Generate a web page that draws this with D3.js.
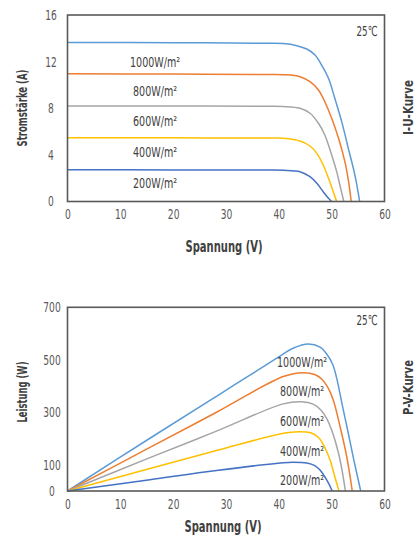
<!DOCTYPE html>
<html>
<head>
<meta charset="utf-8">
<script src="https://cdn.jsdelivr.net/npm/d3@7"></script>
<style>
  html, body { margin: 0; padding: 0; background: #fff; }
  svg { display: block; }
  text { font-family: "DejaVu Sans Condensed", "DejaVu Sans", sans-serif; }
</style>
</head>
<body>
<svg id="chart" width="416" height="536"></svg>
<script>
// ---------- data ----------
const irradianceLabels = ["1000W/m²", "800W/m²", "600W/m²", "400W/m²", "200W/m²"];
const temperatureLabel = "25℃";

// I-U curves: [voltage V, current A]
const iu1000 = [[0,13.65],[20,13.62],[38,13.58],[40.85,13.55],[43.4,13.37],[45.3,13.08],[46.85,12.57],[48.1,11.71],[49.4,10.57],[50.6,8.85],[51.9,6.85],[53.15,4.56],[54.4,2.27],[55.3,0]];
const iu800  = [[0,10.95],[20,10.93],[38,10.9],[40.85,10.88],[44.0,10.71],[45.9,10.28],[47.5,9.57],[48.7,8.56],[50.0,7.14],[51.3,5.42],[52.5,3.42],[53.2,1.7],[53.7,0]];
const iu600  = [[0,8.2],[20,8.19],[38,8.17],[40.85,8.15],[44.0,8.0],[45.9,7.57],[47.5,6.71],[48.7,5.71],[50.0,3.99],[50.95,2.56],[51.7,1.13],[52.3,0]];
const iu400  = [[0,5.47],[20,5.46],[38,5.44],[40.85,5.42],[44.0,5.19],[45.9,4.76],[47.2,4.13],[48.4,3.13],[49.4,1.99],[50.3,0.84],[50.95,0]];
const iu200  = [[0,2.72],[20,2.71],[38,2.7],[40.85,2.68],[44.0,2.56],[45.9,2.13],[47.2,1.56],[48.4,0.84],[49.4,0.27],[50.0,0]];

// P-V curves: [voltage V, power W]
const pv1000 = [[0,0],[15.6,201],[28.2,361],[39.6,506],[42.7,544],[45.6,560],[47.8,548],[49.06,522],[50.2,482],[50.95,430],[51.9,338],[53.15,220],[54.2,118],[55.5,0]];
const pv800  = [[0,0],[15.6,166],[28.2,300],[40.85,436],[44.6,451],[46.8,444],[48.2,425],[49.3,394],[50.3,347],[51.6,245],[52.85,131],[53.9,0]];
const pv600  = [[0,0],[15.6,127],[28.2,228],[40.85,332],[44.3,340],[46.5,331],[48.0,308],[49.1,275],[50.0,232],[51.3,144],[52.0,75],[52.6,0]];
const pv400  = [[0,0],[15.6,86],[28.2,154],[40.85,220],[43.7,226],[46.2,221],[47.6,202],[48.6,170],[49.7,118],[50.6,54],[51.4,0]];
const pv200  = [[0,0],[15.6,43],[28.2,78],[40.85,108],[42.7,110],[45.3,107],[46.8,97],[47.8,80],[49.06,42],[50.1,0]];

const xTicks = [0, 10, 20, 30, 40, 50, 60];
const iuYTicks = [0, 4, 8, 12, 16];
const pvYTicks = [0, 100, 300, 500, 700];

const iuSeries = [iu1000, iu800, iu600, iu400, iu200];
const pvSeries = [pv1000, pv800, pv600, pv400, pv200];

// ---------- styles ----------
const seriesColors = ["#5B9BD5", "#ED7D31", "#A5A5A5", "#FFC000", "#4472C4"];
const axisColor = "#595959";
const textColor = "#404040";
const digitWidth = 5.8;

const svg = d3.select("#chart");
svg.append("rect").attr("width", 416).attr("height", 536).attr("fill", "#fff");

function fitText(sel, width) {
  sel.attr("textLength", width).attr("lengthAdjust", "spacingAndGlyphs");
}

function drawPanel(cfg) {
  const x = d3.scaleLinear().domain([0, 60]).range([cfg.left, cfg.right]);
  const y = d3.scaleLinear().domain([0, cfg.yMax]).range([cfg.bottom, cfg.top]);
  const g = svg.append("g");

  // curves
  const line = d3.line().x(d => x(d[0])).y(d => y(d[1])).curve(d3.curveCatmullRom.alpha(0.5));
  cfg.series.forEach((s, i) => {
    g.append("path").datum(s).attr("d", line)
      .attr("fill", "none").attr("stroke", seriesColors[i])
      .attr("stroke-width", 1.5).attr("stroke-linejoin", "round");
  });

  // frame
  g.append("rect")
    .attr("x", cfg.left).attr("y", cfg.top)
    .attr("width", cfg.right - cfg.left).attr("height", cfg.bottom - cfg.top)
    .attr("fill", "none").attr("stroke", axisColor).attr("stroke-width", 1.6);

  // x axis
  const xa = g.append("g").attr("transform", `translate(0,${cfg.bottom})`)
    .call(d3.axisBottom(x).tickValues(xTicks).tickSize(0).tickPadding(cfg.xTickPad));
  xa.select(".domain").remove();
  xa.selectAll("text").attr("fill", axisColor).style("font-size", "14px")
    .each(function(d) { fitText(d3.select(this), String(d).length * digitWidth); });

  // y axis
  const ya = g.append("g").attr("transform", `translate(${cfg.left},0)`)
    .call(d3.axisLeft(y).tickValues(cfg.yTicks).tickSize(0));
  ya.select(".domain").remove();
  ya.selectAll("text").attr("fill", axisColor).style("font-size", "14px")
    .attr("text-anchor", "middle").attr("x", cfg.yTickX - cfg.left)
    .each(function(d) { fitText(d3.select(this), String(d).length * digitWidth); });

  // axis titles
  g.append("text").attr("x", cfg.xTitleX).attr("y", cfg.xTitleY)
    .attr("text-anchor", "middle").attr("dominant-baseline", "central")
    .attr("font-weight", "bold").attr("fill", textColor).style("font-size", "15px")
    .text("Spannung (V)").call(fitText, 77);
  g.append("text").attr("transform", `translate(${cfg.yTitleX},${cfg.yTitleY}) rotate(-90)`)
    .attr("text-anchor", "middle").attr("dominant-baseline", "central")
    .attr("font-weight", "bold").attr("fill", textColor).style("font-size", "14px")
    .text(cfg.yTitle).call(fitText, cfg.yTitleW);
  g.append("text").attr("transform", `translate(${cfg.sideX},${cfg.sideY}) rotate(-90)`)
    .attr("text-anchor", "middle").attr("dominant-baseline", "central")
    .attr("font-weight", "bold").attr("fill", textColor).style("font-size", "14px")
    .text(cfg.sideTitle).call(fitText, 55);

  // temperature
  g.append("text").attr("x", cfg.right - 7).attr("y", cfg.tempY)
    .attr("text-anchor", "end").attr("dominant-baseline", "central")
    .attr("fill", textColor).style("font-size", "14px").text(temperatureLabel)
    .call(fitText, 21);

  // series labels
  irradianceLabels.forEach((t, i) => {
    g.append("text").attr("x", cfg.labelX).attr("y", cfg.labelY[i])
      .attr("text-anchor", "middle").attr("dominant-baseline", "central")
      .attr("fill", textColor).style("font-size", "14.5px").text(t)
      .call(fitText, i === 0 ? 50 : 44);
  });
}

drawPanel({
  left: 67.5, right: 384.5, top: 15, bottom: 201.5, yMax: 16,
  yTicks: iuYTicks, series: iuSeries, yTickX: 51, xTickPad: 8,
  xTitleX: 224, xTitleY: 246.5, yTitle: "Stromstärke (A)", yTitleW: 77, yTitleX: 22, yTitleY: 108,
  sideTitle: "I-U-Kurve", sideX: 407.5, sideY: 107.5, tempY: 30.5,
  labelX: 155, labelY: [61.7, 90.7, 120.7, 151.7, 182.7]
});

drawPanel({
  left: 67.5, right: 384.5, top: 307.3, bottom: 491, yMax: 700,
  yTicks: pvYTicks, series: pvSeries, yTickX: 52, xTickPad: 8,
  xTitleX: 223, xTitleY: 527.3, yTitle: "Leistung (W)", yTitleW: 61, yTitleX: 22, yTitleY: 392,
  sideTitle: "P-V-Kurve", sideX: 407.5, sideY: 387.5, tempY: 320,
  labelX: 302, labelY: [362.3, 391, 420.7, 451, 480]
});
</script>
</body>
</html>
